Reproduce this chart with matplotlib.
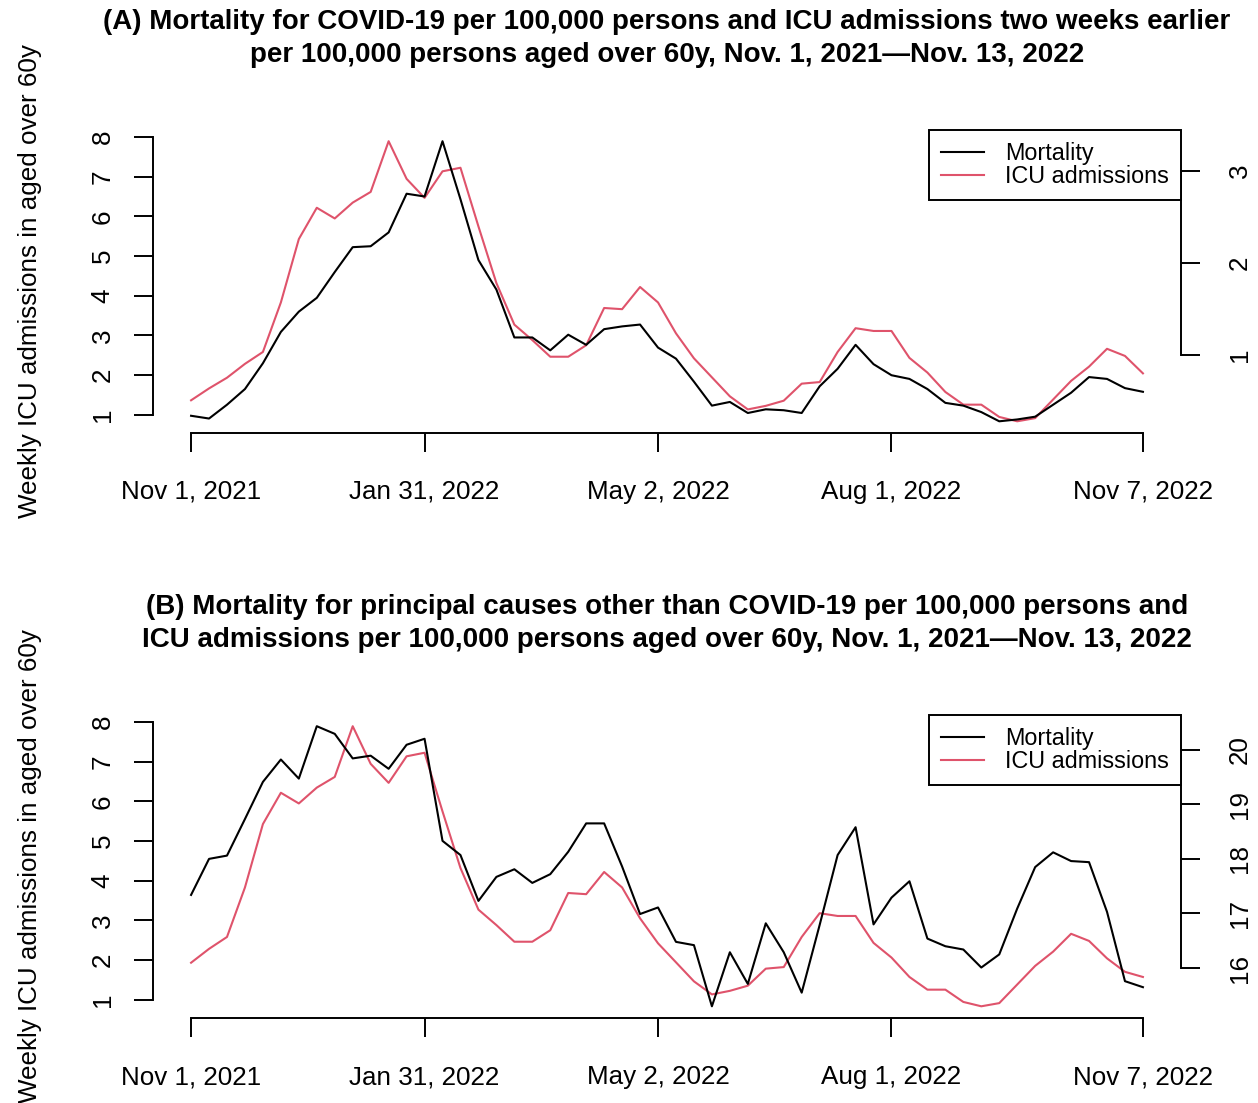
import numpy as np
import pandas as pd
import matplotlib
matplotlib.use('Agg')
import matplotlib.pyplot as plt
import matplotlib.dates as mdates

plt.rcParams['font.family'] = ['Liberation Sans', 'DejaVu Sans']
plt.rcParams['axes.xmargin'] = 0.04
plt.rcParams['axes.ymargin'] = 0.04

# weekly ICU admissions per 100,000 aged over 60y, starting Oct 18, 2021
icu_weekly = [1.36, 1.66, 1.93, 2.28, 2.58, 3.83, 5.43, 6.22, 5.95, 6.35,
              6.62, 7.90, 6.95, 6.47, 7.14, 7.23, 5.75, 4.32, 3.27, 2.88,
              2.46, 2.46, 2.75, 3.69, 3.66, 4.22, 3.83, 3.05, 2.42, 1.94,
              1.46, 1.13, 1.22, 1.35, 1.78, 1.82, 2.58, 3.18, 3.11, 3.11,
              2.43, 2.06, 1.57, 1.25, 1.25, 0.94, 0.83, 0.91, 1.38, 1.85,
              2.21, 2.66, 2.48, 2.04, 1.70, 1.57]
icu_two_weeks_earlier = icu_weekly[:54]
icu_same_week = icu_weekly[2:]

# weekly mortality per 100,000, Nov 1, 2021 - Nov 7, 2022
covid_mort = [0.34, 0.31, 0.46, 0.63, 0.91, 1.25, 1.47, 1.62, 1.90, 2.17,
              2.18, 2.33, 2.75, 2.72, 3.32, 2.69, 2.03, 1.71, 1.19, 1.19,
              1.05, 1.22, 1.11, 1.28, 1.31, 1.33, 1.08, 0.96, 0.71, 0.45,
              0.49, 0.37, 0.41, 0.40, 0.37, 0.66, 0.85, 1.11, 0.90, 0.78,
              0.74, 0.63, 0.48, 0.45, 0.38, 0.28, 0.30, 0.33, 0.46, 0.59,
              0.76, 0.74, 0.64, 0.60]
other_mort = [17.34, 18.00, 18.06, 18.73, 19.41, 19.82, 19.47, 20.43, 20.29, 19.84,
              19.89, 19.65, 20.09, 20.20, 18.33, 18.07, 17.23, 17.67, 17.81, 17.56,
              17.72, 18.13, 18.65, 18.65, 17.86, 16.99, 17.11, 16.48, 16.42, 15.30,
              16.29, 15.71, 16.82, 16.29, 15.55, 16.79, 18.07, 18.58, 16.80, 17.29,
              17.59, 16.54, 16.40, 16.34, 16.01, 16.25, 17.09, 17.85, 18.12, 17.96,
              17.94, 17.03, 15.76, 15.65]

weeks = pd.date_range('2021-11-01', periods=54, freq='7D')
tick_dates = pd.to_datetime(['2021-11-01', '2022-01-31', '2022-05-02', '2022-08-01', '2022-11-07'])
tick_labels = ['Nov 1, 2021', 'Jan 31, 2022', 'May 2, 2022', 'Aug 1, 2022', 'Nov 7, 2022']

title_a = ('(A) Mortality for COVID-19 per 100,000 persons and ICU admissions two weeks earlier\n'
           'per 100,000 persons aged over 60y, Nov. 1, 2021\u2014Nov. 13, 2022')
title_b = ('(B) Mortality for principal causes other than COVID-19 per 100,000 persons and\n'
           'ICU admissions per 100,000 persons aged over 60y, Nov. 1, 2021\u2014Nov. 13, 2022')

red = '#DF536B'
W, H = 1258, 1103
fig = plt.figure(figsize=(W / 100, H / 100), dpi=100)


def panel(top_px, icu, mort, right_ticks, title):
    ax = fig.add_axes([153 / W, (H - top_px - 302.5) / H, 1028 / W, 302.5 / H])
    tw = ax.twinx()
    l_icu, = ax.plot(weeks, icu, color=red, lw=1.5)
    l_mort, = tw.plot(weeks, mort, color='black', lw=1.5)

    for s in ['top', 'right']:
        ax.spines[s].set_visible(False)
    for s in ['top', 'left', 'bottom']:
        tw.spines[s].set_visible(False)
    for a in (ax, tw):
        for s in a.spines.values():
            s.set_linewidth(1.4)

    ax.set_yticks(range(1, 9))
    ax.spines['left'].set_bounds(1, 8)
    tw.set_yticks(right_ticks)
    tw.spines['right'].set_bounds(right_ticks[0], right_ticks[-1])

    ax.set_xticks(tick_dates)
    ax.set_xticklabels(tick_labels)
    ax.spines['bottom'].set_bounds(mdates.date2num(weeks[0]), mdates.date2num(weeks[-1]))

    ax.tick_params(axis='both', length=13.7, width=1.4, labelsize=18.7)
    ax.tick_params(axis='x', pad=20.5)
    ax.tick_params(axis='y', labelrotation=90, pad=14)
    tw.tick_params(axis='y', length=13.7, width=1.4, labelsize=18.7, labelrotation=90, pad=20)
    for t in ax.get_yticklabels() + tw.get_yticklabels():
        t.set_va('center')

    ax.set_ylabel('Weekly ICU admissions in aged over 60y', fontsize=18.7)
    ax.yaxis.set_label_coords(-0.108, 0.5)
    ax.set_title(title, fontsize=20, fontweight='bold', pad=49, linespacing=1.33)

    leg = tw.legend([l_mort, l_icu], ['Mortality', 'ICU admissions'],
                    loc='upper right', bbox_to_anchor=(1, 1), borderaxespad=0,
                    fontsize=16.8, fancybox=False, edgecolor='black', framealpha=1,
                    borderpad=0.5, labelspacing=0.02, handlelength=1.88,
                    handletextpad=0.9)
    leg.get_frame().set_linewidth(1.4)


panel(130, icu_two_weeks_earlier, covid_mort, [1, 2, 3], title_a)
panel(715, icu_same_week, other_mort, [16, 17, 18, 19, 20], title_b)

fig.savefig('out.png', dpi=100)
